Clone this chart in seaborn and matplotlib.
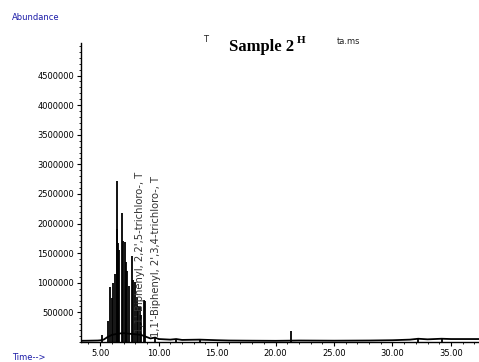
import matplotlib
matplotlib.use("Agg")
import matplotlib.pyplot as plt
import seaborn as sns
import numpy as np
import pandas as pd
from matplotlib.ticker import MultipleLocator, FixedLocator

# ---- data ----
# baseline trace (time, abundance)
trace_time = [3.36, 4.0, 4.8, 5.0, 5.3, 5.6, 6.0, 6.5, 7.0, 7.5, 8.0, 8.5, 8.9, 9.3,
              9.7, 10.0, 11.0, 11.5, 12.0, 13.5, 15.0, 16.0, 18.0, 20.0, 21.0,
              22.0, 25.0, 28.0, 30.0, 31.5, 32.2, 33.0, 34.2, 35.0, 36.0, 37.4]
trace_abund = [20000, 22000, 25000, 28000, 40000, 80000, 120000, 140000, 150000,
               140000, 130000, 120000, 90000, 60000, 75000, 50000, 40000, 50000,
               35000, 40000, 30000, 25000, 22000, 20000, 22000, 25000, 22000,
               25000, 30000, 40000, 55000, 45000, 55000, 50000, 50000, 50000]

# peak apexes (retention time, abundance)
peak_time = [5.13, 5.66, 5.84, 5.98, 6.12, 6.26, 6.41, 6.46, 6.54, 6.64, 6.83, 6.92,
             7.09, 7.20, 7.33, 7.46, 7.69, 7.82, 7.97, 8.11, 8.22, 8.39, 8.52, 8.73,
             8.80, 9.70, 11.5, 13.5, 21.3, 32.2, 34.2]
peak_abund = [120000, 350000, 930000, 750000, 1000000, 1150000, 2720000, 1910000,
              1670000, 1550000, 2180000, 1700000, 1690000, 1350000, 1200000, 950000,
              1450000, 1050000, 1020000, 760000, 600000, 590000, 450000, 710000,
              700000, 80000, 55000, 45000, 190000, 60000, 50000]

y_ticks = [500000, 1000000, 1500000, 2000000, 2500000, 3000000, 3500000, 4000000, 4500000]
x_ticks = [5, 10, 15, 20, 25, 30, 35]
x_tick_labels = ["5.00", "10.00", "15.00", "20.00", "25.00", "30.00", "35.00"]

labels = ["1,1'-Biphenyl, 2,2',5-trichloro-, T", "1,1'-Biphenyl, 2',3,4-trichloro-, T"]
label_time = [8.40, 9.76]
label_abund = [150000, 85000]

# ---- figure ----
sns.set_style("ticks")
plt.rcParams['font.family'] = ['DejaVu Sans']

fig = plt.figure(figsize=(4.79, 3.62), dpi=100)
ax = fig.add_axes([81 / 479, 1 - 342 / 362, (479 - 81) / 479, (342 - 43) / 362])

df = pd.DataFrame({"time": trace_time, "abund": trace_abund})
sns.lineplot(data=df, x="time", y="abund", ax=ax, color="black", lw=1.3)
ax.vlines(peak_time, 0, peak_abund, color="black", lw=1.3)

for t, a, s in zip(label_time, label_abund, labels):
    ax.text(t, a, s, rotation=90, ha="center", va="bottom", fontsize=7.2,
            color="#333333")

ax.set_xlim(3.36, 37.4)
ax.set_ylim(0, 5.05e6)
ax.yaxis.set_major_locator(FixedLocator(y_ticks))
ax.set_yticklabels([str(v) for v in y_ticks])
ax.yaxis.set_minor_locator(MultipleLocator(100000))
ax.xaxis.set_major_locator(FixedLocator(x_ticks))
ax.set_xticklabels(x_tick_labels)
ax.xaxis.set_minor_locator(MultipleLocator(1))
ax.tick_params(axis="both", which="major", direction="out", length=3, width=0.8,
               labelsize=6, pad=2, color="black", labelcolor="black")
ax.tick_params(axis="both", which="minor", direction="out", length=1.5, width=0.6,
               color="black")
ax.set_xlabel("")
ax.set_ylabel("")
for s in ["top", "right"]:
    ax.spines[s].set_visible(False)
for s in ["left", "bottom"]:
    ax.spines[s].set_linewidth(1.0)
    ax.spines[s].set_color("black")

blue = "#1c1ca8"
fig.text(12 / 479, 1 - 18 / 362, "Abundance", fontsize=6, color=blue, ha="left", va="center")
fig.text(12 / 479, 1 - 357 / 362, "Time-->", fontsize=6, color=blue, ha="left", va="center")
fig.text(203 / 479, 1 - 40 / 362, "T", fontsize=6, color="#222222", ha="left", va="center")
fig.text(229 / 479, 1 - 51 / 362, "Sample 2", fontsize=12, fontweight="bold",
         family=["Liberation Serif"], color="black", ha="left", va="baseline")
fig.text(297 / 479, 1 - 43 / 362, "H", fontsize=8, fontweight="bold",
         family=["Liberation Serif"], color="black", ha="left", va="baseline")
fig.text(337 / 479, 1 - 41 / 362, "ta.ms", fontsize=6, color="#222222", ha="left", va="center")

fig.savefig("out.png", dpi=100)
